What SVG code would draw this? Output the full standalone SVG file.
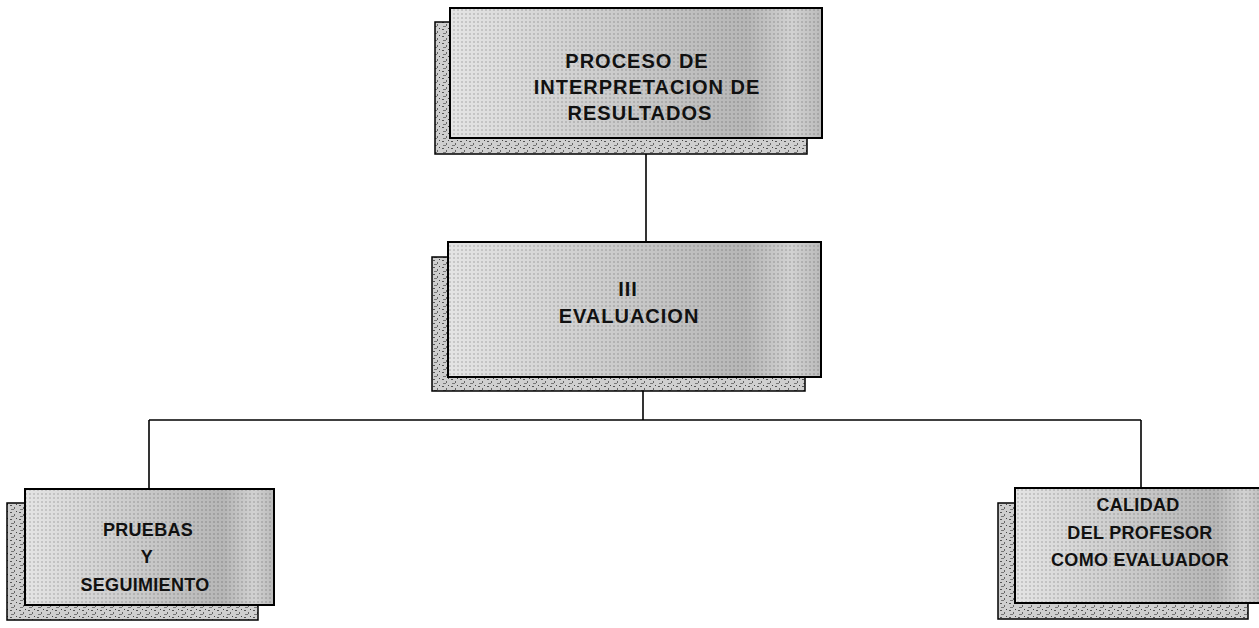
<svg xmlns="http://www.w3.org/2000/svg" width="1259" height="628" viewBox="0 0 1259 628">
<defs>
<linearGradient id="frontGrad" x1="0" y1="0" x2="1" y2="0">
<stop offset="0" stop-color="#e4e4e4"/>
<stop offset="0.45" stop-color="#cbcbcb"/>
<stop offset="0.8" stop-color="#b6b6b6"/>
<stop offset="0.92" stop-color="#d2d2d2"/>
<stop offset="1" stop-color="#bababa"/>
</linearGradient>
<pattern id="dots" width="4" height="4" patternUnits="userSpaceOnUse">
<circle cx="2" cy="2" r="0.8" fill="#000"/>
</pattern>
<pattern id="noise" width="9" height="7" patternUnits="userSpaceOnUse">
<rect width="9" height="7" fill="#cfcfcf"/>
<rect x="1" y="1" width="2" height="1" fill="#555"/>
<rect x="5" y="3" width="1" height="2" fill="#666"/>
<rect x="2" y="5" width="3" height="1" fill="#777"/>
<rect x="7" y="0" width="1" height="1" fill="#444"/>
</pattern>
</defs>
<style>
.front-bg{fill:url(#frontGrad);}
.front-dots{fill:url(#dots);opacity:0.28;}
.front-edge{fill:none;stroke:#000;stroke-width:2;}
.back{fill:url(#noise);stroke:#000;stroke-width:1.5;}
.label{font-family:"Liberation Sans",Arial,sans-serif;font-weight:bold;fill:#111;text-anchor:middle;}
.big{font-size:20px;letter-spacing:1px;}
.small{font-size:18px;letter-spacing:0.3px;}
.conn{stroke:#000;stroke-width:1.6;fill:none;}
</style>
<rect width="1259" height="628" fill="#fff"/>

<g id="connectors">
<line class="conn" x1="646" y1="154" x2="646" y2="242"/>
<line class="conn" x1="643" y1="391" x2="643" y2="420"/>
<line class="conn" x1="149" y1="420" x2="1141" y2="420"/>
<line class="conn" x1="149" y1="420" x2="149" y2="489"/>
<line class="conn" x1="1141" y1="420" x2="1141" y2="488"/>
</g>

<g id="node-proceso">
<rect class="back" x="435" y="22" width="372" height="132"/>
<rect class="front-bg" x="450" y="8" width="372" height="130"/>
<rect class="front-dots" x="450" y="8" width="372" height="130"/>
<rect class="front-edge" x="450" y="8" width="372" height="130"/>
<text class="label big" x="637" y="68">PROCESO DE</text>
<text class="label big" x="647" y="94">INTERPRETACION DE</text>
<text class="label big" x="640" y="120">RESULTADOS</text>
</g>

<g id="node-evaluacion">
<rect class="back" x="432" y="257" width="373" height="134"/>
<rect class="front-bg" x="448" y="242" width="373" height="135"/>
<rect class="front-dots" x="448" y="242" width="373" height="135"/>
<rect class="front-edge" x="448" y="242" width="373" height="135"/>
<text class="label big" x="628" y="296">III</text>
<text class="label big" x="629" y="323">EVALUACION</text>
</g>

<g id="node-pruebas">
<rect class="back" x="7" y="503" width="251" height="117"/>
<rect class="front-bg" x="25" y="489" width="249" height="116"/>
<rect class="front-dots" x="25" y="489" width="249" height="116"/>
<rect class="front-edge" x="25" y="489" width="249" height="116"/>
<text class="label small" x="148" y="536">PRUEBAS</text>
<text class="label small" x="147" y="563">Y</text>
<text class="label small" x="145" y="591">SEGUIMIENTO</text>
</g>

<g id="node-calidad">
<rect class="back" x="998" y="503" width="250" height="116"/>
<rect class="front-bg" x="1015" y="488" width="250" height="115"/>
<rect class="front-dots" x="1015" y="488" width="250" height="115"/>
<rect class="front-edge" x="1015" y="488" width="250" height="115"/>
<text class="label small" x="1138" y="511">CALIDAD</text>
<text class="label small" x="1140" y="539">DEL PROFESOR</text>
<text class="label small" x="1140" y="566">COMO EVALUADOR</text>
</g>
</svg>
